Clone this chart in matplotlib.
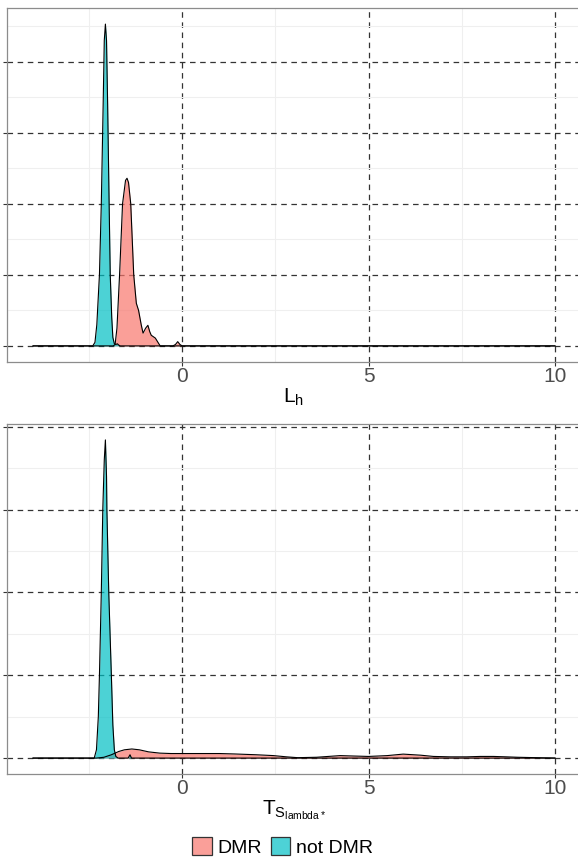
import matplotlib
matplotlib.use("Agg")
import matplotlib.pyplot as plt
from matplotlib.patches import Patch

plt.rcParams['font.family'] = ['Liberation Sans', 'DejaVu Sans']
plt.rcParams['mathtext.fontset'] = 'custom'
plt.rcParams['mathtext.rm'] = 'Liberation Sans'
plt.rcParams['mathtext.it'] = 'Liberation Sans'
plt.rcParams['lines.scale_dashes'] = False

# ---------------- data ----------------
groups = ["DMR", "not DMR"]
fill_colors = ["#F8766D", "#00BFC4"]
legend_colors = ["#FA9F99", "#4DD2D6"]

# top panel: L_h
top_dmr_x = [-4.0, -1.85, -1.80, -1.75, -1.68, -1.60, -1.52, -1.48, -1.44, -1.38,
             -1.30, -1.23, -1.17, -1.10, -1.05, -0.98, -0.92, -0.87, -0.83, -0.72,
             -0.65, -0.59, -0.25, -0.18, -0.12, -0.06, 0.0, 10.0]
top_dmr_y = [0, 0, 0.02, 0.25, 1.0, 2.0, 2.33, 2.36, 2.3, 2.0,
             1.0, 0.6, 0.5, 0.3, 0.18, 0.25, 0.29, 0.2, 0.15, 0.11,
             0.05, 0, 0, 0.02, 0.06, 0.02, 0, 0]
top_not_x = [-4.0, -2.40, -2.34, -2.29, -2.25, -2.22, -2.17, -2.12, -2.09, -2.06,
             -2.03, -2.00, -1.96, -1.93, -1.89, -1.86, -1.82, -1.78, -1.74, -1.70,
             -1.66, 10.0]
top_not_y = [0, 0, 0.05, 0.3, 0.7, 1.0, 2.0, 3.4, 4.3, 4.53,
             4.3, 3.4, 2.0, 1.0, 0.4, 0.12, 0.03, 0.02, 0.03, 0.01,
             0, 0]

# bottom panel: T_S_lambda*
bot_dmr_x = [-4.0, -2.3, -2.1, -1.9, -1.7, -1.55, -1.35, -1.15, -0.9, -0.6,
             -0.3, 0.0, 0.5, 1.0, 1.4, 2.0, 2.45, 2.8, 3.1, 3.6,
             4.24, 4.6, 5.0, 5.5, 5.93, 6.4, 6.74, 7.2, 7.63, 8.0,
             8.35, 8.7, 9.0, 9.5, 10.0]
bot_dmr_y = [0, 0, 0.01, 0.04, 0.08, 0.1, 0.11, 0.1, 0.075, 0.06,
             0.055, 0.055, 0.055, 0.055, 0.05, 0.04, 0.03, 0.015, 0.005, 0.01,
             0.03, 0.025, 0.02, 0.03, 0.048, 0.035, 0.02, 0.015, 0.015, 0.02,
             0.02, 0.015, 0.01, 0.005, 0]
bot_not_x = [-4.0, -2.36, -2.30, -2.25, -2.22, -2.17, -2.13, -2.09, -2.06, -2.03,
             -2.02, -1.97, -1.90, -1.86, -1.82, -1.78, -1.72, -1.45, -1.40, -1.36,
             10.0]
bot_not_y = [0, 0, 0.1, 0.5, 1.0, 2.0, 3.0, 3.6, 3.84, 3.4,
             3.0, 2.0, 1.0, 0.4, 0.1, 0.02, 0, 0, 0.04, 0,
             0]

x_major = [0, 5, 10]
x_minor = [-2.5, 2.5, 7.5]
x_labels = ["0", "5", "10"]
y_major = [0, 1, 2, 3, 4]
y_minor = [0.5, 1.5, 2.5, 3.5, 4.5]

# ---------------- figure ----------------
W, H = 578, 858
fig = plt.figure(figsize=(W / 100, H / 100), dpi=100)
ax1 = fig.add_axes([7 / W, (H - 362) / H, (581 - 7) / W, 354 / H])
ax2 = fig.add_axes([7 / W, (H - 774) / H, (581 - 7) / W, 350 / H])

panels = [
    (ax1, [(top_dmr_x, top_dmr_y), (top_not_x, top_not_y)], r'$\mathregular{L_h}$', 4.53),
    (ax2, [(bot_dmr_x, bot_dmr_y), (bot_not_x, bot_not_y)], r'$\mathregular{T_{S_{lambda*}}}$', 3.84),
]

dash = (0, (4.0, 3.3))
for ax, series, label, ymax in panels:
    for (xs, ys), col in zip(series, fill_colors):
        ax.fill_between(xs, ys, 0, color=col, alpha=0.7, lw=0, zorder=2)
        ax.plot(xs, ys, color='black', lw=0.8, zorder=3)
    ax.set_xticks(x_major)
    ax.set_xticklabels(x_labels)
    ax.set_xticks(x_minor, minor=True)
    ax.set_yticks(y_major)
    ax.set_yticks(y_minor, minor=True)
    ax.set_xlim(-4.7, 10.7)
    ax.set_ylim(-0.05 * ymax, 1.05 * ymax)
    ax.tick_params(axis='y', labelleft=False)
    ax.tick_params(which='major', length=3, width=0.8, color='#333333',
                   labelsize=15, labelcolor='#4D4D4D', pad=0.5)
    ax.tick_params(which='minor', length=0)
    ax.set_axisbelow(True)
    ax.grid(which='minor', color='#EFEFEF', lw=0.8, zorder=0)
    ax.grid(which='major', color='#333333', lw=0.9, linestyle=dash, zorder=1)
    for sp in ax.spines.values():
        sp.set_color('#8C8C8C')
        sp.set_linewidth(0.9)
    ax.set_xlabel(label, fontsize=15, labelpad=0.5, color='black')

handles = [Patch(facecolor=c, edgecolor='#333333', lw=0.9) for c in legend_colors]
fig.legend(handles, groups, loc='center', bbox_to_anchor=(282.5 / W, 1 - 847 / H),
           ncol=2, frameon=False, fontsize=14, handlelength=1.0, handleheight=1.0,
           handletextpad=0.3, columnspacing=0.45, borderpad=0)

fig.savefig("out.png", dpi=100)
